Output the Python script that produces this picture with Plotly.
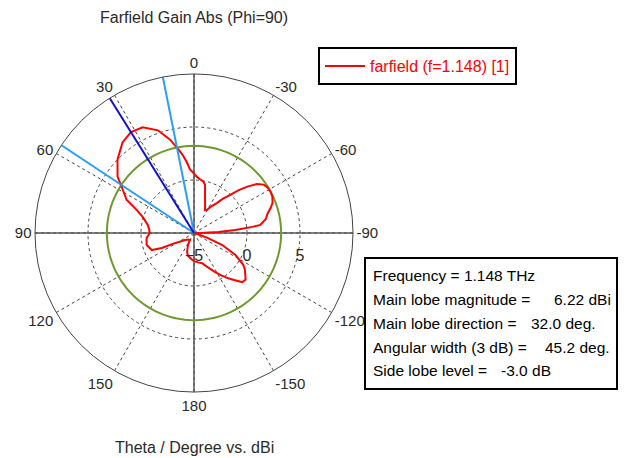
import plotly.graph_objs as go

# farfield gain (dBi) vs theta (deg), Phi=90 cut
theta_deg = [-180, -172, -165, -158, -151.7, -147, -142.9, -139, -135.6, -132, -129.5, -126, -123, -118, -113, -110,
             -107, -104, -97, -90, -89, -87.6, -85.8, -84, -83, -79, -75, -72, -69, -65, -61.6, -58, -55.2, -52,
             -49, -46, -43.5, -40, -37.5, -33, -29.5, -25.6, -22, -18.4, -14.3, -12.9, -10, -6.4, -3, 0, 3.6, 5.7,
             8.5, 11.3, 14.5, 19.4, 25.9, 32, 38.3, 46.2, 53.6, 57.4, 63.8, 68, 72.6, 80, 85, 90, 96, 104.3, 112,
             115, 117.8, 122, 127.9, 140, 150, 153.4, 160, 164.7, 172, 178, 180]
gain_dbi = [-2.35, -2.2, -2.05, -1.5, -0.8, -0.2, 0.36, 0.9, 1.5, 1.55, 1.27, 0.95, 0.56, -0.58, -2.1, -3.6,
            -4.6, -5.0, -5.0, -5.0, -4.0, -2.7, -1.1, 0.54, 1.3, 1.9, 2.2, 2.6, 2.94, 3.15, 3.2, 3.15, 3.0, 2.5,
            1.67, 0.8, -0.03, -0.8, -1.41, -2.0, -2.49, -2.6, -2.2, -1.7, -0.78, -0.33, -0.05, 0.1, 0.3, 0.6, 1.0, 1.68,
            2.5, 3.22, 4.12, 5.27, 6.08, 6.22, 5.88, 5.0, 3.96, 3.1, 2.09, 0.84, 0.08, -0.57, -0.75, -0.82, -0.5, -0.39, -0.7,
            -1.65, -2.96, -3.5, -3.92, -4.2, -4.24, -3.73, -3.1, -2.8, -2.6, -2.4, -2.35]

main_lobe_mag = 6.22
main_lobe_dir = 32.0
beam_edges = [11.3, 56.5]
three_db_level = main_lobe_mag - 3.0

angle_ticks = [0, 30, 60, 90, 120, 150, 180, 210, 240, 270, 300, 330]
angle_labels = ["0", "30", "60", "90", "120", "150", "180", "-150", "-120", "-90", "-60", "-30"]
r_ticks = [-5, 0, 5]
r_min, r_max = -5, 10

info_labels = ["Frequency = 1.148 THz", "Main lobe magnitude =", "Main lobe direction =",
               "Angular width (3 dB) =", "Side lobe level ="]
info_values = ["", "6.22 dBi", "32.0 deg.", "45.2 deg.", "-3.0 dB"]

# page body has an 8px margin, so the figure is 8px smaller than the window on each axis
OFF = 8
W, H = 626 - OFF, 458 - OFF
font = "Liberation Sans"


def px(x):
    return (x - OFF) / W


def py(y):
    return 1 - (y - OFF) / H


fig = go.Figure()

# solid cross hair through the centre
for a in [0, 90]:
    fig.add_trace(go.Scatterpolar(r=[r_max, r_min, r_max], theta=[a, a, a + 180], mode="lines",
                                  line=dict(color="#555555", width=1.5), showlegend=False, hoverinfo="skip"))

fig.add_trace(go.Scatterpolar(r=[three_db_level] * 121, theta=list(range(0, 363, 3)), mode="lines",
                              line=dict(color="#6e9a2c", width=2), showlegend=False, hoverinfo="skip"))

fig.add_trace(go.Scatterpolar(r=gain_dbi, theta=theta_deg, mode="lines", name="farfield (f=1.148) [1]",
                              line=dict(color="#ff0000", width=2)))

for a in beam_edges:
    fig.add_trace(go.Scatterpolar(r=[r_min, r_max], theta=[a, a], mode="lines",
                                  line=dict(color="#2a9df4", width=2), showlegend=False, hoverinfo="skip"))
fig.add_trace(go.Scatterpolar(r=[r_min, r_max], theta=[main_lobe_dir, main_lobe_dir], mode="lines",
                              line=dict(color="#1010d0", width=2), showlegend=False, hoverinfo="skip"))

cx, cy, R = 194, 233, 159
fig.update_layout(
    width=W, height=H, margin=dict(l=0, r=0, t=0, b=0),
    paper_bgcolor="white", plot_bgcolor="white",
    font=dict(family=font, size=15, color="#2a2a2a"),
    polar=dict(
        domain=dict(x=[px(cx - R), px(cx + R)], y=[py(cy + R), py(cy - R)]),
        bgcolor="white",
        angularaxis=dict(rotation=90, direction="counterclockwise", tickmode="array",
                         tickvals=angle_ticks, ticktext=angle_labels, ticks="",
                         showline=True, linecolor="#444444", linewidth=1,
                         gridcolor="#444444", griddash="3px,3px", gridwidth=1,
                         tickfont=dict(size=15, color="#2a2a2a")),
        radialaxis=dict(range=[r_min, r_max], tickmode="array", tickvals=r_ticks, angle=0,
                        side="clockwise", showline=False, ticks="outside", ticklen=8,
                        tickcolor="rgba(0,0,0,0)",
                        gridcolor="#444444", griddash="3px,3px", gridwidth=1,
                        tickfont=dict(size=16, color="#2a2a2a")),
    ),
    legend=dict(x=px(318), y=py(47), xanchor="left", yanchor="top", bordercolor="black", borderwidth=2,
                bgcolor="white", itemwidth=40, font=dict(color="#ff0000", size=16)),
    showlegend=True,
)

fig.add_annotation(text="Farfield Gain Abs (Phi=90)", x=px(194), y=py(17), xref="paper", yref="paper",
                   showarrow=False, xanchor="center", yanchor="middle", font=dict(size=16))
fig.add_annotation(text="Theta / Degree vs. dBi", x=px(194), y=py(447), xref="paper", yref="paper",
                   showarrow=False, xanchor="center", yanchor="middle", font=dict(size=16))

# info box
fig.add_shape(type="rect", xref="paper", yref="paper", x0=px(365), x1=px(617), y0=py(389), y1=py(258),
              line=dict(color="black", width=2), fillcolor="white", layer="above")
rows_y = [275, 299, 323, 347, 370]
vals_x = [0, 552, 529, 543, 499]
for lab, val, yy, vx in zip(info_labels, info_values, rows_y, vals_x):
    fig.add_annotation(text=lab, x=px(371), y=py(yy), xref="paper", yref="paper", showarrow=False,
                       xanchor="left", yanchor="middle", font=dict(color="black", size=15.5))
    if val:
        fig.add_annotation(text=val, x=px(vx), y=py(yy), xref="paper", yref="paper", showarrow=False,
                           xanchor="left", yanchor="middle", font=dict(color="black", size=15.5))

fig.write_html("out.html")
